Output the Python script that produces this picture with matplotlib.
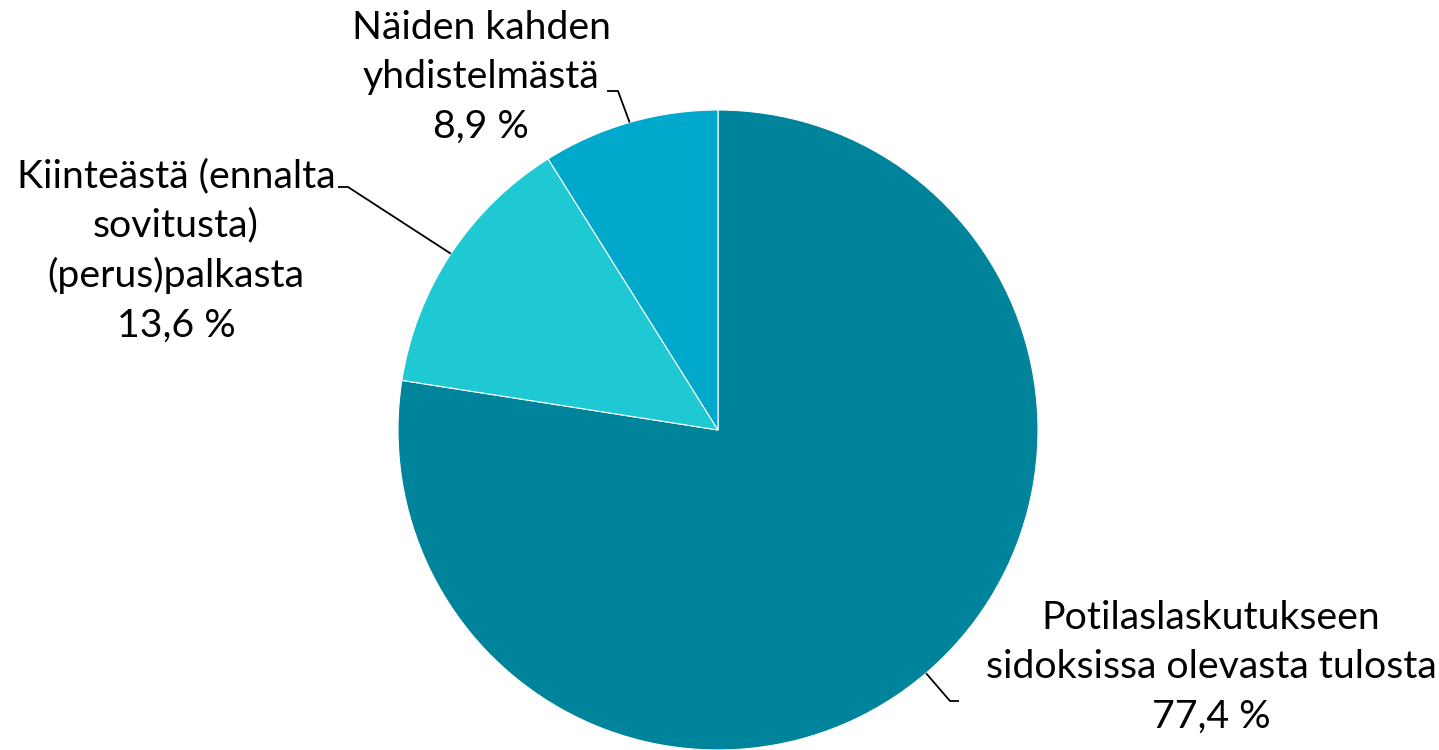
import numpy as np
import matplotlib
matplotlib.use("Agg")
import matplotlib.pyplot as plt

# Share of income by source (%)
categories = [
    "Potilaslaskutukseen\nsidoksissa olevasta tulosta",
    "Kiinteästä (ennalta\nsovitusta)\n(perus)palkasta",
    "Näiden kahden\nyhdistelmästä",
]
values = [77.4, 13.6, 8.9]
colors = ["#00849B", "#1FC9D4", "#00A9CC"]

W, H = 1439, 750
fig = plt.figure(figsize=(W / 100, H / 100), dpi=100)
ax = fig.add_axes([0, 0, 1, 1])

cx, cy, r = 718, H - 430, 320
wedges, _ = ax.pie(values, colors=colors, startangle=90, counterclock=False,
                   center=(cx, cy), radius=r, frame=True,
                   wedgeprops=dict(edgecolor="white", linewidth=0.8))
ax.set_xlim(0, W)
ax.set_ylim(0, H)
ax.set_aspect("equal")
ax.axis("off")

# label anchor (text centre x, first-line top y in pixels), leader elbow and end
layout = [
    dict(tx=1211, ty=600, elbow=(950, 701), end=(959, 701)),
    dict(tx=176, ty=158, elbow=(348, 187), end=(338, 187)),
    dict(tx=481, ty=10, elbow=(618, 91), end=(607, 91)),
]

font = dict(family=["Lato", "DejaVu Sans"], fontsize=28.3, color="black")
for w, cat, val, lay in zip(wedges, categories, values, layout):
    mid = np.deg2rad((w.theta1 + w.theta2) / 2)
    sx, sy = cx + r * np.cos(mid), cy + r * np.sin(mid)
    ex, ey = lay["elbow"]
    nx, ny = lay["end"]
    ax.plot([sx, ex, nx], [sy, H - ey, H - ny], color="black", lw=1.3,
            solid_capstyle="butt", zorder=3)
    label = f"{cat}\n{val:.1f} %".replace(".", ",")
    ax.text(lay["tx"], H - lay["ty"], label, ha="center", va="top",
            linespacing=1.46, **font)

fig.savefig("out.png", dpi=100)
